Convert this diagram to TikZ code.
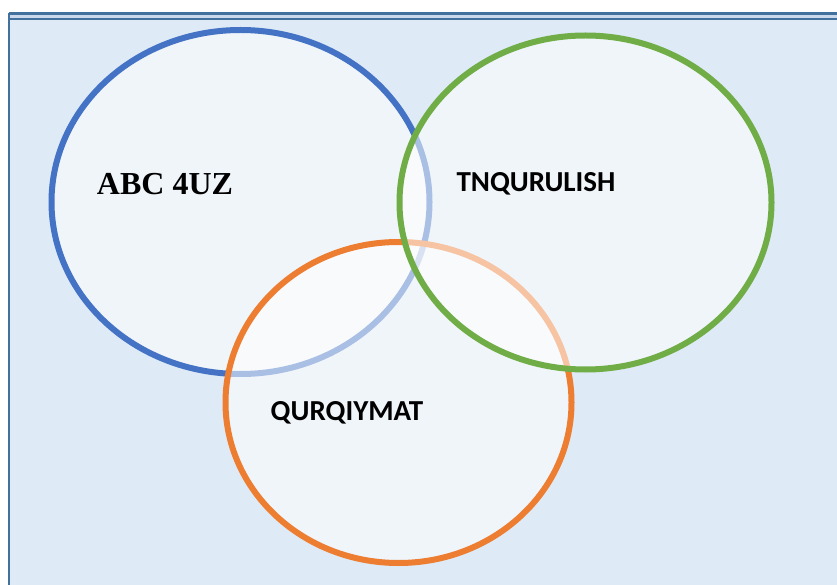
\documentclass[tikz,border=0pt]{standalone}
\usepackage{fontspec}
\setmainfont{Liberation Serif}
\newfontfamily\calfont{Carlito}
\usetikzlibrary{calc}

\definecolor{bgblue}{HTML}{DEEAF6}
\definecolor{framecol}{HTML}{41719C}
\definecolor{framelite}{HTML}{C9D8EA}
\definecolor{vblue}{HTML}{4472C4}
\definecolor{vgreen}{HTML}{70AD47}
\definecolor{vorange}{HTML}{ED7D31}

\tikzset{
  venn/.style={line width=6pt, fill=white, fill opacity=0.55, draw opacity=1},
  lbl/.style={inner sep=0pt, text=black, text opacity=1}
}

\begin{document}
\begin{tikzpicture}[x=1pt,y=-1pt]
    \useasboundingbox (0,0) rectangle (837,585);

		\coordinate (tl) at (9,13.5);
		\coordinate (br) at (845,595);

		% 背景
		\fill [bgblue] (tl) rectangle (br);
		\fill [framelite] (9,13.5) rectangle (845,19);
		\draw [framecol, line width=2.5pt] (tl) -- (845,13.5);
		\draw [framecol, line width=2pt] (10,19) -- (845,19);
		\draw [framecol, line width=2.8pt] (tl) -- (9,595);

		% 円
		\coordinate (cA) at (240.5,202);
		\coordinate (cT) at (585.5,202.5);
		\coordinate (cQ) at (398.5,402.5);

		\draw [venn, draw=vblue] (cA) ellipse [x radius=189, y radius=172];
		\draw [venn, draw=vorange] (cQ) ellipse [x radius=173, y radius=160.5];
		\draw [venn, draw=vgreen] (cT) ellipse [x radius=186, y radius=167];

		% ラベル
		\node [lbl] (abc) at (165,184) {\fontsize{32}{36}\selectfont\bfseries ABC 4UZ};
		\node [lbl] (tnq) at (536,184) {\calfont\fontsize{29}{34}\selectfont\bfseries TNQURULISH};
		\node [lbl] (qur) at (347,413) {\calfont\fontsize{29}{34}\selectfont\bfseries QURQIYMAT};
\end{tikzpicture}
\end{document}
